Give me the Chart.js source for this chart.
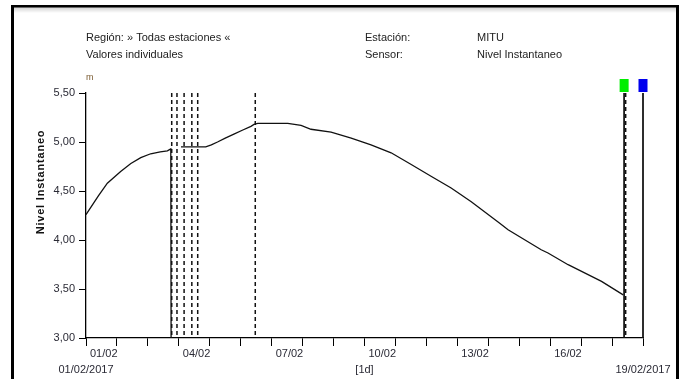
<!DOCTYPE html>
<html>
<head>
<meta charset="utf-8">
<script src="https://cdn.jsdelivr.net/npm/chart.js@4/dist/chart.umd.min.js"></script>
<style>
  html, body { margin: 0; padding: 0; background: #fff; }
  #wrap { width: 683px; height: 379px; position: relative; }
</style>
</head>
<body>
<div id="wrap"><canvas id="c" width="683" height="379"></canvas></div>
<script>
// ---- data (days since 01/02/2017, level in m) ----
const levelDays = [0, 0.4, 0.69, 1.12, 1.45, 1.77, 2.09, 2.40, 2.63, 2.74, 2.75, 2.76,
  3.07, 3.50, 3.87, 4.05, 4.25, 4.50, 4.78, 5.05, 5.33, 5.43, 5.55, 6.52, 6.95, 7.27,
  7.92, 8.57, 9.21, 9.86, 10.51, 11.15, 11.80, 12.45, 13.37, 13.64, 14.71, 14.93, 15.58,
  16.66, 17.36];
const levelValues = [4.26, 4.45, 4.58, 4.70, 4.78, 4.84, 4.88, 4.90, 4.91, 4.93, 3.00, null,
  4.95, 4.95, 4.95, 4.97, 5.00, 5.04, 5.08, 5.12, 5.16, 5.18, 5.19, 5.19, 5.17, 5.13,
  5.10, 5.04, 4.97, 4.89, 4.77, 4.65, 4.53, 4.39, 4.17, 4.105, 3.90, 3.867, 3.748,
  3.578, 3.44];
const gapDays = [2.77, 2.94, 3.17, 3.42, 3.61, 5.47, 17.44];
const markerDays = [17.39, 18];
const markerColors = ['#00ee00', '#0000ee'];
const xTickLabels = ['01/02', '04/02', '07/02', '10/02', '13/02', '16/02'];
const xSubDays = [0, 9, 18];
const xSubLabels = ['01/02/2017', '[1d]', '19/02/2017'];
const yTickValues = [3.0, 3.5, 4.0, 4.5, 5.0, 5.5];
const headerLeft = ['Región: » Todas estaciones «', 'Valores individuales'];
const headerKeys = ['Estación:', 'Sensor:'];
const headerVals = ['MITU', 'Nivel Instantaneo'];
const yTitle = 'Nivel Instantaneo';
const yUnit = 'm';
const Y_MIN = 3.0, Y_MAX = 5.5, X_MIN = 0, X_MAX = 18;

const FONT = "'Liberation Sans Narrow', 'Liberation Sans', Arial, sans-serif";
const TXT = '#2a2a35';

const datasets = [];
datasets.push({
  data: levelDays.map((d, i) => ({ x: d, y: levelValues[i] })),
  borderColor: '#111', borderWidth: 1.3, pointRadius: 0, tension: 0,
  spanGaps: false, clip: false
});
gapDays.forEach(d => datasets.push({
  data: [{ x: d, y: Y_MAX }, { x: d, y: Y_MIN }],
  borderColor: '#111', borderWidth: 1.5, borderDash: [4, 3], pointRadius: 0, clip: false
}));
markerDays.forEach(d => datasets.push({
  data: [{ x: d, y: Y_MAX }, { x: d, y: Y_MIN }],
  borderColor: '#111', borderWidth: 1, pointRadius: 0, clip: false
}));

const decor = {
  id: 'decor',
  beforeDraw(chart) {
    const ctx = chart.ctx;
    ctx.save();
    ctx.fillStyle = '#fff';
    ctx.fillRect(0, 0, 683, 379);
    // frame
    const g = ctx.createLinearGradient(0, 7, 0, 13);
    g.addColorStop(0, '#cfcfcf'); g.addColorStop(1, '#ffffff');
    ctx.fillStyle = g; ctx.fillRect(14, 7, 662, 6);
    ctx.fillStyle = '#000';
    ctx.fillRect(11, 5, 668, 2.5);
    ctx.fillRect(11, 5, 3, 374);
    ctx.fillRect(676, 5, 3, 374);
    // header texts
    ctx.fillStyle = '#222';
    ctx.font = '11px ' + FONT;
    ctx.textBaseline = 'middle';
    ctx.textAlign = 'left';
    headerLeft.forEach((t, i) => ctx.fillText(t, 86, 38 + i * 17));
    headerKeys.forEach((t, i) => ctx.fillText(t, 365, 38 + i * 17));
    headerVals.forEach((t, i) => ctx.fillText(t, 477, 38 + i * 17));
    // unit
    ctx.font = '9px ' + FONT;
    ctx.fillStyle = '#7a5a30';
    ctx.fillText(yUnit, 86, 78);
    // y title
    ctx.save();
    ctx.translate(41, 182);
    ctx.rotate(-Math.PI / 2);
    ctx.font = 'bold 11px ' + FONT;
    ctx.fillStyle = '#111';
    ctx.textAlign = 'center';
    try { ctx.letterSpacing = '0.8px'; } catch (e) {}
    ctx.fillText(yTitle, 0, 0);
    ctx.restore();
    ctx.restore();
  },
  afterDatasetsDraw(chart) {
    const ctx = chart.ctx;
    const xs = chart.scales.x, ys = chart.scales.y;
    ctx.save();
    // markers
    const top = ys.getPixelForValue(Y_MAX);
    markerDays.forEach((d, i) => {
      const px = xs.getPixelForValue(d);
      ctx.fillStyle = markerColors[i];
      ctx.fillRect(px - 4.5, top - 14, 9, 13);
    });
    // second row of x labels
    ctx.fillStyle = TXT;
    ctx.font = '11px ' + FONT;
    ctx.textAlign = 'center';
    ctx.textBaseline = 'middle';
    xSubDays.forEach((d, i) => ctx.fillText(xSubLabels[i], xs.getPixelForValue(d), 370));
    ctx.restore();
  }
};

new Chart(document.getElementById('c'), {
  type: 'line',
  data: { datasets },
  options: {
    responsive: false,
    animation: false,
    devicePixelRatio: 1,
    layout: { padding: { top: 93, right: 40, left: 0, bottom: 0 } },
    plugins: { legend: { display: false }, tooltip: { enabled: false } },
    scales: {
      x: {
        type: 'linear', min: X_MIN, max: X_MAX,
        afterFit(s) { s.height = 41; },
        afterBuildTicks(s) {
          const t = [];
          for (let d = X_MIN; d <= X_MAX; d++) t.push({ value: d });
          s.ticks = t;
        },
        ticks: {
          autoSkip: false, maxRotation: 0, align: 'start', labelOffset: 4, padding: 1,
          color: TXT, font: { family: FONT, size: 11 },
          callback: v => (v % 3 === 0 && v / 3 < xTickLabels.length) ? xTickLabels[v / 3] : ''
        },
        grid: { drawOnChartArea: false, drawTicks: true, tickLength: 8, color: '#000', lineWidth: 1 },
        border: { display: true, color: '#000', width: 1.3 }
      },
      y: {
        type: 'linear', min: Y_MIN, max: Y_MAX,
        afterFit(s) { s.width = 86; },
        afterBuildTicks(s) { s.ticks = yTickValues.map(v => ({ value: v })); },
        ticks: {
          padding: 4, color: TXT, font: { family: FONT, size: 11 },
          callback: v => v.toFixed(2).replace('.', ',')
        },
        grid: { drawOnChartArea: false, drawTicks: true, tickLength: 7, color: '#000', lineWidth: 1 },
        border: { display: true, color: '#000', width: 1.3 }
      }
    }
  },
  plugins: [decor]
});
</script>
</body>
</html>
